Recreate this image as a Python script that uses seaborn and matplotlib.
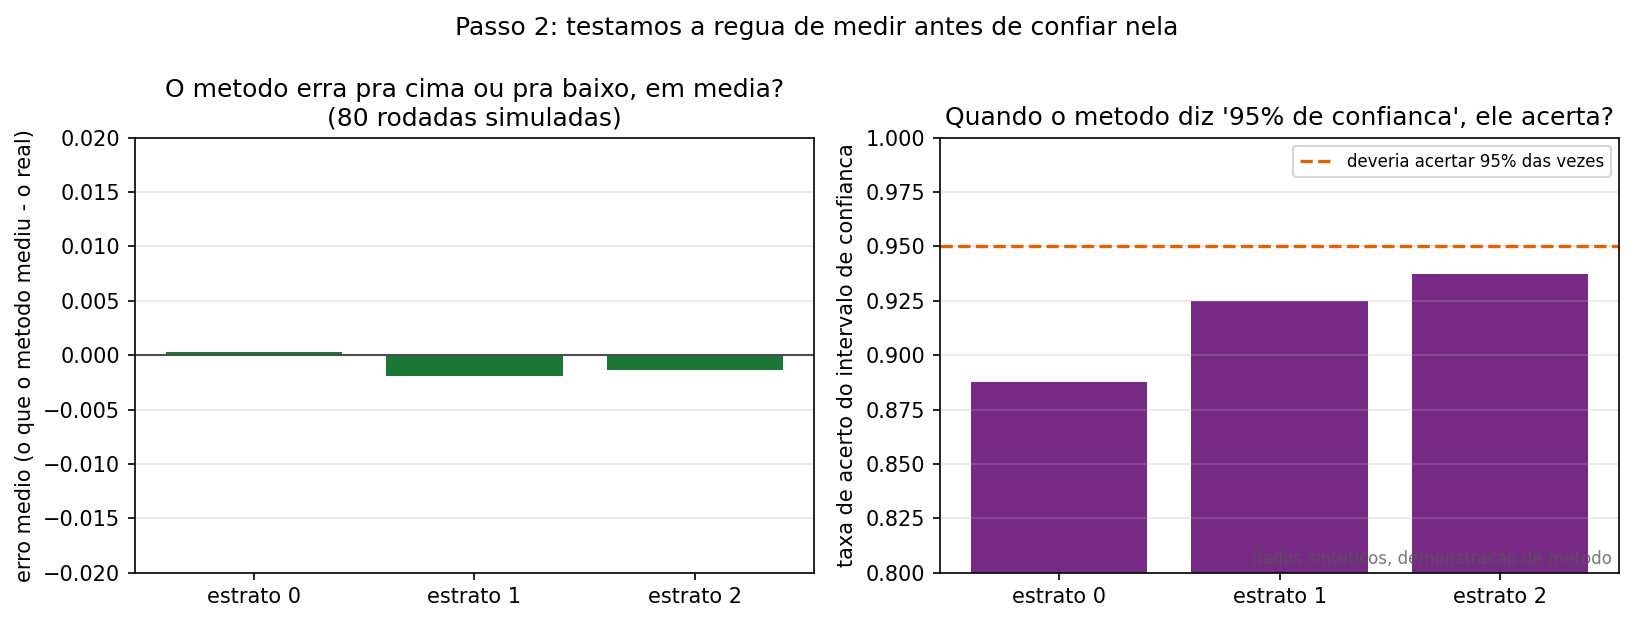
import matplotlib
matplotlib.use("Agg")
import matplotlib.pyplot as plt
import seaborn as sns
import pandas as pd

categories = ["estrato 0", "estrato 1", "estrato 2"]
bias_values = [0.00025, -0.0019, -0.00135]
coverage_values = [0.8875, 0.925, 0.9375]
nominal_coverage = 0.95

suptitle = "Passo 2: testamos a regua de medir antes de confiar nela"
left_title = "O metodo erra pra cima ou pra baixo, em media?\n(80 rodadas simuladas)"
right_title = "Quando o metodo diz '95% de confianca', ele acerta?"
left_ylabel = "erro medio (o que o metodo mediu - o real)"
right_ylabel = "taxa de acerto do intervalo de confianca"
legend_label = "deveria acertar 95% das vezes"
watermark = "dados sinteticos, demonstracao de metodo"

df_bias = pd.DataFrame({"estrato": categories, "vies": bias_values})
df_cov = pd.DataFrame({"estrato": categories, "cobertura": coverage_values})

plt.rcParams["font.family"] = ["DejaVu Sans"]

fig = plt.figure(figsize=(1634 / 150, 623 / 150), dpi=150)
ax1 = fig.add_axes([0.0824, 0.0807, 0.4158, 0.6983])
ax2 = fig.add_axes([0.5753, 0.0807, 0.4155, 0.6983])

sns.barplot(data=df_bias, x="estrato", y="vies", ax=ax1, color="#1b7837",
            saturation=1, width=0.8)
ax1.axhline(0, color="0.3", linewidth=1)
ax1.set_xlim(-0.54, 2.54)
ax1.set_ylim(-0.02, 0.02)
ax1.set_yticks([-0.02, -0.015, -0.01, -0.005, 0, 0.005, 0.01, 0.015, 0.02])
ax1.grid(axis="y", alpha=0.3)
ax1.set_title(left_title, fontsize=12)
ax1.set_xlabel("")
ax1.set_ylabel(left_ylabel, fontsize=10)

sns.barplot(data=df_cov, x="estrato", y="cobertura", ax=ax2, color="#762a83",
            saturation=1, width=0.8)
ax2.axhline(nominal_coverage, color="#e66101", linestyle="--", linewidth=1.6,
            label=legend_label)
ax2.set_xlim(-0.54, 2.54)
ax2.set_ylim(0.8, 1.0)
ax2.grid(axis="y", alpha=0.3)
ax2.set_title(right_title, fontsize=12)
ax2.set_xlabel("")
ax2.set_ylabel(right_ylabel, fontsize=10)
ax2.legend(loc="upper right", fontsize=8)
ax2.text(0.99, 0.01, watermark, transform=ax2.transAxes, ha="right",
         va="bottom", fontsize=8, color="#555555", alpha=0.8)

fig.suptitle(suptitle, fontsize=12, y=0.975)

fig.savefig("out.png", dpi=150)
